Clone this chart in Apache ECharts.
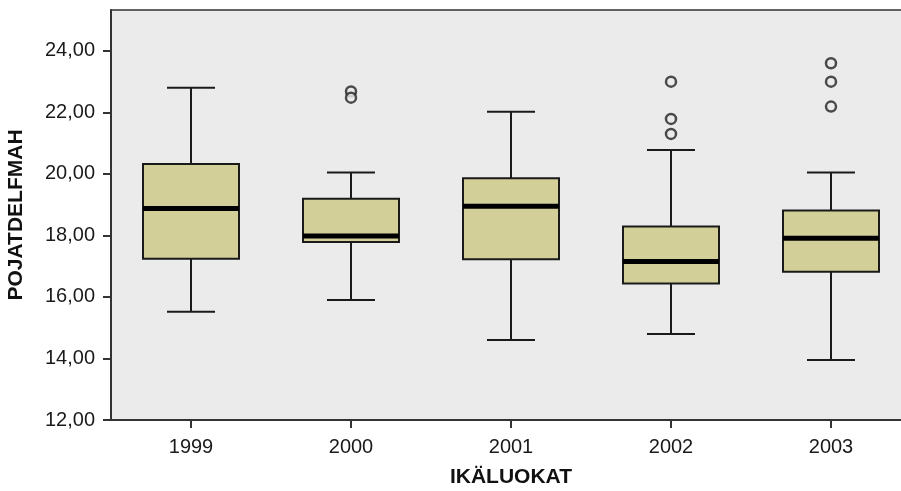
<!DOCTYPE html>
<html>
<head>
<meta charset="utf-8">
<script src="https://cdn.jsdelivr.net/npm/echarts@6/dist/echarts.min.js"></script>
<style>html,body{margin:0;padding:0;background:#fff}#c{width:901px;height:491px}</style>
</head>
<body>
<div id="c"></div>
<script>
var categories = ['1999', '2000', '2001', '2002', '2003'];
var lowWhisker = [15.52, 15.90, 14.60, 14.80, 13.95];
var q1 = [17.24, 17.79, 17.23, 16.44, 16.82];
var median = [18.88, 17.98, 18.95, 17.15, 17.91];
var q3 = [20.32, 19.19, 19.86, 18.29, 18.81];
var highWhisker = [22.80, 20.05, 22.02, 20.78, 20.05];
var outlierCat = [1, 1, 3, 3, 3, 4, 4, 4];
var outlierVal = [22.68, 22.48, 23.00, 21.79, 21.30, 23.60, 23.00, 22.19];
var yTicks = [12, 14, 16, 18, 20, 22, 24];

var boxData = categories.map(function (c, i) {
  return [i, lowWhisker[i], q1[i], median[i], q3[i], highWhisker[i]];
});
var outlierData = outlierCat.map(function (c, i) { return [c, outlierVal[i]]; });

var chart = echarts.init(document.getElementById('c'), null, {renderer: 'canvas'});
var font = '"Liberation Sans", Arial, sans-serif';

function renderBox(params, api) {
  var x = api.value(0);
  var pLow = api.coord([x, api.value(1)]);
  var pQ1 = api.coord([x, api.value(2)]);
  var pMed = api.coord([x, api.value(3)]);
  var pQ3 = api.coord([x, api.value(4)]);
  var pHigh = api.coord([x, api.value(5)]);
  var band = api.size([1, 0])[0];
  var bw = band * 0.6;
  var cw = band * 0.3;
  var cx = pMed[0];
  var line = {stroke: '#1a1a1a', lineWidth: 2};
  return {
    type: 'group',
    children: [
      {type: 'line', shape: {x1: cx, y1: pQ3[1], x2: cx, y2: pHigh[1]}, style: line},
      {type: 'line', shape: {x1: cx, y1: pQ1[1], x2: cx, y2: pLow[1]}, style: line},
      {type: 'line', shape: {x1: cx - cw / 2, y1: pHigh[1], x2: cx + cw / 2, y2: pHigh[1]}, style: line},
      {type: 'line', shape: {x1: cx - cw / 2, y1: pLow[1], x2: cx + cw / 2, y2: pLow[1]}, style: line},
      {type: 'rect', shape: {x: cx - bw / 2, y: pQ3[1], width: bw, height: pQ1[1] - pQ3[1]},
        style: {fill: '#d3cf98', stroke: '#1a1a1a', lineWidth: 2}},
      {type: 'line', shape: {x1: cx - bw / 2, y1: pMed[1], x2: cx + bw / 2, y2: pMed[1]},
        style: {stroke: '#000', lineWidth: 5}}
    ]
  };
}

chart.setOption({
  animation: false,
  backgroundColor: '#ffffff',
  grid: {
    left: 111, top: 10, width: 800, height: 410,
    outerBoundsMode: 'none',
    containLabel: false,
    show: true, backgroundColor: '#ebebeb', borderColor: '#333', borderWidth: 1.5
  },
  xAxis: {
    type: 'category',
    data: categories,
    name: 'IKÄLUOKAT',
    nameLocation: 'middle',
    nameGap: 47,
    nameTextStyle: {fontFamily: font, fontSize: 21, fontWeight: 'bold', color: '#111'},
    axisLine: {lineStyle: {color: '#333', width: 2}},
    axisTick: {show: true, alignWithLabel: true, length: 8, inside: false, lineStyle: {color: '#333', width: 2}},
    axisLabel: {fontFamily: font, fontSize: 20, color: '#1a1a1a', margin: 17, interval: 0},
    splitLine: {show: false}
  },
  yAxis: {
    type: 'value',
    min: 12,
    max: 25.33,
    interval: 2,
    name: 'POJATDELFMAH',
    nameLocation: 'middle',
    nameGap: 84,
    nameRotate: 90,
    nameTextStyle: {fontFamily: font, fontSize: 21, fontWeight: 'bold', color: '#111'},
    axisLine: {show: true, lineStyle: {color: '#333', width: 2}},
    axisTick: {show: true, length: 8, lineStyle: {color: '#333', width: 2}, customValues: yTicks},
    axisLabel: {
      fontFamily: font, fontSize: 20, color: '#1a1a1a', margin: 16,
      customValues: yTicks,
      formatter: function (v) { return v.toFixed(2).replace('.', ','); }
    },
    splitLine: {show: false}
  },
  series: [
    {
      type: 'custom',
      renderItem: renderBox,
      encode: {x: 0, y: [1, 2, 3, 4, 5]},
      data: boxData,
      z: 2
    },
    {
      type: 'scatter',
      data: outlierData,
      symbol: 'circle',
      symbolSize: 10,
      itemStyle: {color: '#ebebeb', borderColor: '#222', borderWidth: 2.5},
      z: 3
    }
  ]
});
</script>
</body>
</html>
